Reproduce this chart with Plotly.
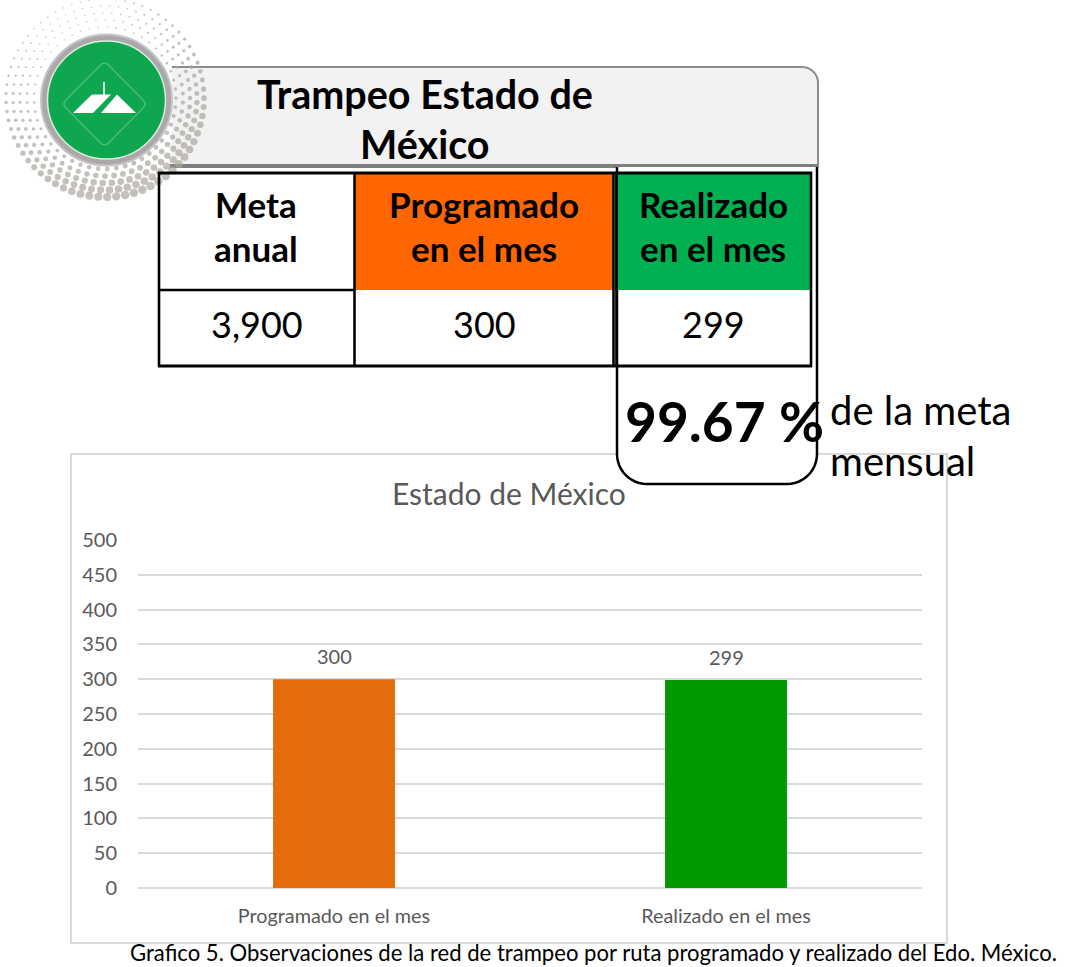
import math
import plotly.graph_objects as go

W, H = 1070, 967

# Data
categories = ["Programado en el mes", "Realizado en el mes"]
values = [300, 299]
bar_colors = ["#E46C0A", "#009900"]
y_ticks = [0, 50, 100, 150, 200, 250, 300, 350, 400, 450, 500]
chart_title = "Estado de México"
header_lines = ["Trampeo Estado de", "México"]
table_values = ["3,900", "300", "299"]
percent_text = "99.67 %"
caption = "Grafico 5. Observaciones de la red de trampeo por ruta programado y realizado del Edo. México."

FONT = "Lato"


def px(x):
    return x / W


def py(y):
    return 1 - y / H


def path_of(points, close=True):
    d = "M " + " L ".join(f"{px(x):.5f},{py(y):.5f}" for x, y in points)
    return d + (" Z" if close else "")


def rect(x0, y0, x1, y1, fill="rgba(0,0,0,0)", line=None, lw=0, layer="above"):
    return dict(type="rect", xref="paper", yref="paper", x0=px(x0), x1=px(x1), y0=py(y1), y1=py(y0),
                fillcolor=fill, line=dict(color=line or "rgba(0,0,0,0)", width=lw), layer=layer)


def seg(x0, y0, x1, y1, color="#000000", lw=3, layer="above"):
    return dict(type="line", xref="paper", yref="paper", x0=px(x0), x1=px(x1), y0=py(y0), y1=py(y1),
                line=dict(color=color, width=lw), layer=layer)


def circle(cx, cy, r, fill="rgba(0,0,0,0)", line=None, lw=0):
    return dict(type="circle", xref="paper", yref="paper", x0=px(cx - r), x1=px(cx + r), y0=py(cy + r), y1=py(cy - r),
                fillcolor=fill, line=dict(color=line or "rgba(0,0,0,0)", width=lw), layer="above")


def arc_pts(cx, cy, r, a0, a1, n=12):
    return [(cx + r * math.cos(math.radians(a0 + (a1 - a0) * i / n)),
             cy + r * math.sin(math.radians(a0 + (a1 - a0) * i / n))) for i in range(n + 1)]


def label(x, y, text, size, color="#000000", bold=False, anchor="center", font=FONT):
    return dict(xref="paper", yref="paper", x=px(x), y=py(y), text=f"<b>{text}</b>" if bold else text,
                showarrow=False, xanchor=anchor, yanchor="middle",
                font=dict(family=font, size=size, color=color))


fig = go.Figure()

# Bars on the real axes
fig.add_trace(go.Bar(x=categories, y=values, marker=dict(color=bar_colors, line=dict(width=0)),
                     width=0.311, hoverinfo="skip", showlegend=False))

# Decorative halftone halo of the logo, on a page-sized pixel axis
dx, dy, ds = [], [], []
for k, rr in enumerate((71, 78, 85, 92, 99)):
    n = int(2 * math.pi * rr / 9)
    for i in range(n):
        a = 2 * math.pi * (i + (k % 2) * 0.5) / n
        w = 0.5 + 0.5 * math.sin(a + 0.35)
        t = k / 4
        dx.append(105 + rr * math.cos(a))
        dy.append(98 + rr * math.sin(a))
        ds.append(1.5 + (w ** 1.3) * (3.5 + 3.5 * t))
fig.add_trace(go.Scatter(x=dx, y=dy, xaxis="x2", yaxis="y2", mode="markers",
                         marker=dict(size=ds, color="#ABA79F", line=dict(width=0)),
                         hoverinfo="skip", showlegend=False))

shapes = []
# chart frame
shapes.append(rect(71, 454, 947, 943, fill="#FFFFFF", line="#D9D9D9", lw=2, layer="below"))
# header box: fill, then the top/right outline only (its left end sits behind the logo)
head_edge = [(172, 67)] + arc_pts(802, 83, 16, -90, 0) + [(818, 167)]
shapes.append(dict(type="path", xref="paper", yref="paper", path=path_of(head_edge + [(172, 167)]),
                   fillcolor="#F2F2F2", line=dict(width=0), layer="below"))
shapes.append(dict(type="path", xref="paper", yref="paper", path=path_of(head_edge, close=False),
                   fillcolor="rgba(0,0,0,0)", line=dict(color="#8C8C8C", width=2), layer="below"))
shapes.append(seg(170, 166, 818, 166, color="#7F7F7F", lw=4, layer="below"))

# callout behind the last column
call = [(617, 167)] + arc_pts(647, 454, 30, 180, 90) + arc_pts(787, 454, 30, 90, 0) + [(817, 167)]
shapes.append(dict(type="path", xref="paper", yref="paper", path=path_of(call, close=False), fillcolor="#FFFFFF",
                   line=dict(color="#000000", width=2.5), layer="above"))

# table
shapes.append(rect(355, 173, 614, 290, fill="#FF6600"))
shapes.append(rect(615, 173, 811, 290, fill="#00B050"))
for x in (159, 354.5, 613.5, 616.5, 811):
    shapes.append(seg(x, 172, x, 367, lw=2.6))
shapes.append(seg(158, 173, 812, 173, lw=2.8))
shapes.append(seg(158, 366, 812, 366, lw=2.8))
shapes.append(seg(158, 290, 355, 290, lw=2.6))

# logo
shapes.append(circle(106.5, 100, 65.5, fill="#ABA7AA", line="#C7C4C6", lw=2))
shapes.append(circle(106.5, 100, 59, fill="#0FA650", line="#D9EFD9", lw=1.5))
dm = [(104.5, 61), (147, 104), (104.5, 147), (62, 104)]
dpath = ""
for i, (x, y) in enumerate(dm):
    xp, yp = dm[i - 1]
    xn, yn = dm[(i + 1) % 4]
    f = 0.09
    a = (x + (xp - x) * f, y + (yp - y) * f)
    b = (x + (xn - x) * f, y + (yn - y) * f)
    dpath += ("M " if i == 0 else "L ") + f"{px(a[0]):.5f},{py(a[1]):.5f} "
    dpath += f"Q {px(x):.5f},{py(y):.5f} {px(b[0]):.5f},{py(b[1]):.5f} "
dpath += "Z"
shapes.append(dict(type="path", xref="paper", yref="paper", path=dpath, fillcolor="rgba(0,0,0,0)",
                   line=dict(color="#5FC084", width=1.1), layer="above"))
shapes.append(dict(type="path", xref="paper", yref="paper", path=path_of([(73, 113), (92, 94.5), (111, 94.5), (93, 113)]),
                   fillcolor="#FFFFFF", line=dict(width=0), layer="above"))
shapes.append(dict(type="path", xref="paper", yref="paper", path=path_of([(101, 113), (117, 94.5), (136, 113)]),
                   fillcolor="#FFFFFF", line=dict(width=0), layer="above"))
shapes.append(seg(104, 82, 104, 95, color="#FFFFFF", lw=1.6))

anns = [
    label(425, 93, header_lines[0], 39.5, bold=True),
    label(425, 144, header_lines[1], 39.5, bold=True),
    label(256, 204, "Meta", 35, bold=True),
    label(256, 248, "anual", 35, bold=True),
    label(483.5, 204, "Programado", 35, bold=True),
    label(483.5, 248, "en el mes", 35, bold=True),
    label(713, 204, "Realizado", 35, bold=True),
    label(713, 248, "en el mes", 35, bold=True),
    label(256.5, 324, table_values[0], 36),
    label(484, 324, table_values[1], 36),
    label(713, 324, table_values[2], 36),
    label(724, 421, percent_text, 55, bold=True),
    label(828, 410, "de la meta", 40, anchor="left"),
    label(828, 461, "mensual", 40, anchor="left"),
    label(509, 493, chart_title, 30, color="#595959"),
    label(128, 952.5, caption, 22.1, anchor="left"),
]
for c, v in zip(categories, values):
    anns.append(dict(xref="x", yref="y", x=c, y=v, text=str(v), showarrow=False, yanchor="bottom", yshift=9,
                     font=dict(family=FONT, size=20, color="#595959")))

fig.update_layout(
    width=W, height=H, autosize=False,
    margin=dict(l=0, r=0, t=0, b=0),
    paper_bgcolor="#FFFFFF", plot_bgcolor="rgba(0,0,0,0)",
    shapes=shapes, annotations=anns, bargap=0.689,
    xaxis=dict(domain=[px(138), px(922)], type="category", anchor="y", showgrid=False, automargin=False,
               ticks="outside", ticklen=10, tickcolor="rgba(0,0,0,0)", showline=False, zeroline=False,
               tickfont=dict(family=FONT, size=19.8, color="#595959"), fixedrange=True),
    yaxis=dict(domain=[py(888), py(540)], range=[0, 500], anchor="x", tickvals=y_ticks, automargin=False,
               showgrid=True, gridcolor="#D9D9D9", gridwidth=2, zeroline=True, zerolinecolor="#D9D9D9", zerolinewidth=2,
               ticks="outside", ticklen=16, tickcolor="rgba(0,0,0,0)", showline=False,
               tickfont=dict(family=FONT, size=20, color="#595959"), fixedrange=True),
    xaxis2=dict(domain=[0, 1], range=[0, W], anchor="y2", visible=False, fixedrange=True, automargin=False),
    yaxis2=dict(domain=[0, 1], range=[H, 0], anchor="x2", visible=False, fixedrange=True, automargin=False),
)

fig.write_html("out.html", config=dict(displayModeBar=False),
               post_script="document.body.style.margin='0';document.body.style.overflow='hidden';")
